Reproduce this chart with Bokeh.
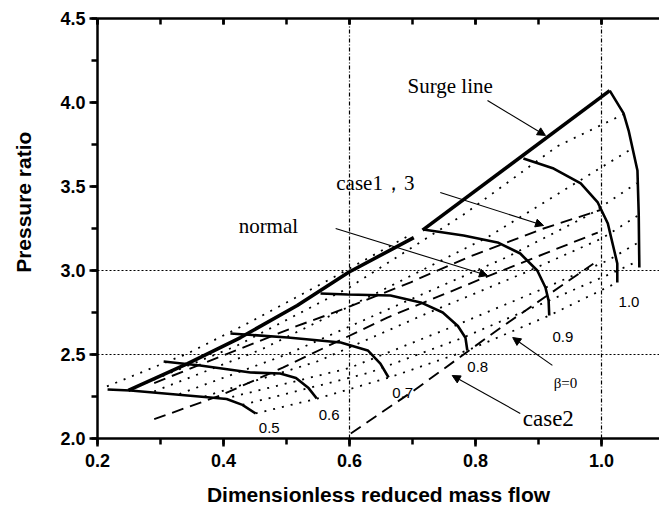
from bokeh.plotting import figure
from bokeh.models import (Range1d, LinearAxis, FixedTicker, SingleIntervalTicker,
                          PrintfTickFormatter, CustomJSTickFormatter, Arrow, NormalHead, Label)
from bokeh.embed import file_html
from bokeh.resources import INLINE

# ---------------- data ----------------
# surge line (two segments)
surge_low_x = [0.249, 0.343, 0.427, 0.517, 0.598, 0.702]
surge_low_y = [2.286, 2.446, 2.601, 2.792, 2.988, 3.196]
surge_up_x = [0.716, 1.013]
surge_up_y = [3.240, 4.071]

# speed lines (thick solid)
n050_x = [0.216, 0.252, 0.379, 0.405, 0.430, 0.451]
n050_y = [2.292, 2.286, 2.244, 2.235, 2.200, 2.149]
n060_x = [0.305, 0.363, 0.443, 0.490, 0.515, 0.535, 0.548]
n060_y = [2.458, 2.435, 2.393, 2.387, 2.360, 2.300, 2.238]
n070_x = [0.411, 0.502, 0.586, 0.629, 0.649, 0.662]
n070_y = [2.625, 2.601, 2.571, 2.524, 2.446, 2.363]
n080_x = [0.554, 0.597, 0.665, 0.713, 0.748, 0.772, 0.784, 0.787]
n080_y = [2.863, 2.857, 2.851, 2.810, 2.750, 2.670, 2.600, 2.524]
n090_x = [0.717, 0.781, 0.835, 0.871, 0.898, 0.911, 0.916, 0.917]
n090_y = [3.244, 3.208, 3.167, 3.101, 3.000, 2.899, 2.821, 2.732]
n095_x = [0.876, 0.924, 0.967, 0.994, 1.010, 1.019, 1.025, 1.025]
n095_y = [3.667, 3.607, 3.518, 3.405, 3.280, 3.137, 3.042, 2.929]
n100_x = [1.013, 1.035, 1.043, 1.057, 1.059, 1.060]
n100_y = [4.071, 3.935, 3.833, 3.595, 3.339, 3.018]

# beta lines (dotted)
b1_x = [0.215, 0.343, 0.438, 0.570, 0.700]
b1_y = [2.310, 2.506, 2.685, 2.950, 3.220]
b2_x = [0.250, 0.420, 0.600, 0.780, 0.930, 1.035]
b2_y = [2.290, 2.550, 2.900, 3.330, 3.740, 3.930]
b3_x = [0.290, 0.460, 0.640, 0.820, 0.950, 1.046]
b3_y = [2.280, 2.530, 2.860, 3.200, 3.500, 3.720]
b4_x = [0.330, 0.500, 0.680, 0.850, 0.980, 1.056]
b4_y = [2.265, 2.500, 2.800, 3.080, 3.330, 3.520]
b5_x = [0.370, 0.550, 0.720, 0.880, 1.000, 1.059]
b5_y = [2.250, 2.460, 2.740, 2.990, 3.190, 3.330]
b6_x = [0.400, 0.600, 0.760, 0.900, 1.010, 1.060]
b6_y = [2.235, 2.420, 2.660, 2.880, 3.060, 3.170]
b7_x = [0.430, 0.630, 0.780, 0.910, 1.020, 1.060]
b7_y = [2.200, 2.390, 2.600, 2.810, 2.990, 3.060]
b0_x = [0.451, 0.549, 0.663, 0.787, 0.917, 1.025]
b0_y = [2.149, 2.238, 2.363, 2.524, 2.732, 2.929]

# operating lines (dashed)
case13_x = [0.290, 0.390, 0.517, 0.590, 0.697, 0.787, 0.908, 0.998]
case13_y = [2.330, 2.480, 2.670, 2.770, 2.930, 3.077, 3.250, 3.360]
normal_x = [0.290, 0.395, 0.495, 0.660, 0.819, 0.994]
normal_y = [2.115, 2.256, 2.423, 2.720, 2.965, 3.226]
case2_x = [0.602, 0.700, 0.840, 0.987]
case2_y = [2.030, 2.280, 2.660, 3.040]

speed_labels = ["0.5", "0.6", "0.7", "0.8", "0.9", "1.0"]
grid_x = [0.6, 1.0]
grid_y = [2.5, 3.0]

# ---------------- figure ----------------
p = figure(width=659, height=513, x_range=Range1d(0.2, 1.092), y_range=Range1d(2.0, 4.5),
           output_backend="svg", toolbar_location=None,
           min_border_left=97, min_border_right=0, min_border_top=18, min_border_bottom=75)
p.outline_line_color = None
p.background_fill_color = "white"
p.border_fill_color = "white"

sans = "Liberation Sans"
serif = "Liberation Serif"

p.xaxis.ticker = SingleIntervalTicker(interval=0.2, num_minor_ticks=2)
p.yaxis.ticker = SingleIntervalTicker(interval=0.5, num_minor_ticks=2)
p.xaxis.formatter = PrintfTickFormatter(format="%.1f")
p.yaxis.formatter = PrintfTickFormatter(format="%.1f")
for ax in [p.xaxis[0], p.yaxis[0]]:
    ax.axis_line_width = 2.5
    ax.axis_line_color = "black"
    ax.major_tick_line_width = 2.5
    ax.minor_tick_line_width = 2.5
    ax.major_tick_line_color = "black"
    ax.minor_tick_line_color = "black"
    ax.major_tick_out = 8
    ax.major_tick_in = 0
    ax.minor_tick_out = 6
    ax.minor_tick_in = 0
    ax.major_label_text_font = sans
    ax.major_label_text_font_style = "bold"
    ax.major_label_text_font_size = "18px"
    ax.major_label_text_color = "black"
    ax.axis_label_text_font = sans
    ax.axis_label_text_font_style = "bold"
    ax.axis_label_text_font_size = "21px"
    ax.axis_label_text_color = "black"
p.xaxis.axis_label = "Dimensionless reduced mass flow"
# leading no-break spaces lift the title above the frame centre, as in the reference
p.yaxis.axis_label = "\u00a0" * 9 + "Pressure ratio"
p.xaxis.major_label_standoff = 7
p.yaxis.major_label_standoff = 4
p.xaxis.axis_label_standoff = 13
p.yaxis.axis_label_standoff = 22

top = LinearAxis(ticker=SingleIntervalTicker(interval=0.2, num_minor_ticks=2),
                 formatter=CustomJSTickFormatter(code="return ''"),
                 major_label_text_font_size="1px", axis_line_width=2.5,
                 major_tick_line_width=2.5, minor_tick_line_width=2.5,
                 major_tick_in=6, major_tick_out=0, minor_tick_in=6, minor_tick_out=0,
                 major_label_standoff=0)
p.add_layout(top, "above")

p.xgrid.ticker = FixedTicker(ticks=grid_x)
p.ygrid.ticker = FixedTicker(ticks=grid_y)
p.xgrid.grid_line_color = "black"
p.ygrid.grid_line_color = "black"
p.xgrid.grid_line_dash = "4 2 1 2"
p.ygrid.grid_line_dash = "2 2"
p.xgrid.grid_line_width = 1.2
p.ygrid.grid_line_width = 1.2

# dotted beta lines
for bx, by in [(b1_x, b1_y), (b2_x, b2_y), (b3_x, b3_y), (b4_x, b4_y),
               (b5_x, b5_y), (b6_x, b6_y), (b7_x, b7_y), (b0_x, b0_y)]:
    p.line(bx, by, line_color="black", line_width=1.8, line_dash="2 7")

# dashed operating lines
for dx, dy in [(case13_x, case13_y), (normal_x, normal_y), (case2_x, case2_y)]:
    p.line(dx, dy, line_color="black", line_width=1.9, line_dash="12 7")

# speed lines
for sx, sy in [(n050_x, n050_y), (n060_x, n060_y), (n070_x, n070_y), (n080_x, n080_y),
               (n090_x, n090_y), (n095_x, n095_y), (n100_x, n100_y)]:
    p.line(sx, sy, line_color="black", line_width=2.6)

# surge line
p.line(surge_low_x, surge_low_y, line_color="black", line_width=3.6)
p.line(surge_up_x, surge_up_y, line_color="black", line_width=3.6)

# speed labels
lab_x = [0.456, 0.551, 0.668, 0.787, 0.922, 1.027]
lab_y = [2.060, 2.137, 2.268, 2.423, 2.607, 2.815]
for t, lx, ly in zip(speed_labels, lab_x, lab_y):
    p.add_layout(Label(x=lx, y=ly, text=t, text_font=sans, text_font_size="15px",
                       text_baseline="middle", text_align="left", text_color="black"))

# annotations
for t, lx, ly, fs in [("Surge line", 0.692, 4.101, "21px"), ("case1，3", 0.579, 3.518, "21px"),
                      ("normal", 0.424, 3.262, "21px"), ("case2", 0.875, 2.119, "23px"),
                      ("β=0", 0.924, 2.333, "15px")]:
    p.add_layout(Label(x=lx, y=ly, text=t, text_font=serif, text_font_size=fs,
                       text_baseline="middle", text_align="left", text_color="black"))

for x0, y0, x1, y1 in [(0.819, 4.012, 0.911, 3.804), (0.744, 3.464, 0.908, 3.268),
                       (0.578, 3.250, 0.819, 2.970), (0.922, 2.435, 0.859, 2.601),
                       (0.871, 2.149, 0.763, 2.375)]:
    p.add_layout(Arrow(x_start=x0, y_start=y0, x_end=x1, y_end=y1, line_width=1.1,
                       line_color="black",
                       end=NormalHead(size=8, fill_color="black", line_color="black")))

open("out.html", "w").write(file_html(p, INLINE))
